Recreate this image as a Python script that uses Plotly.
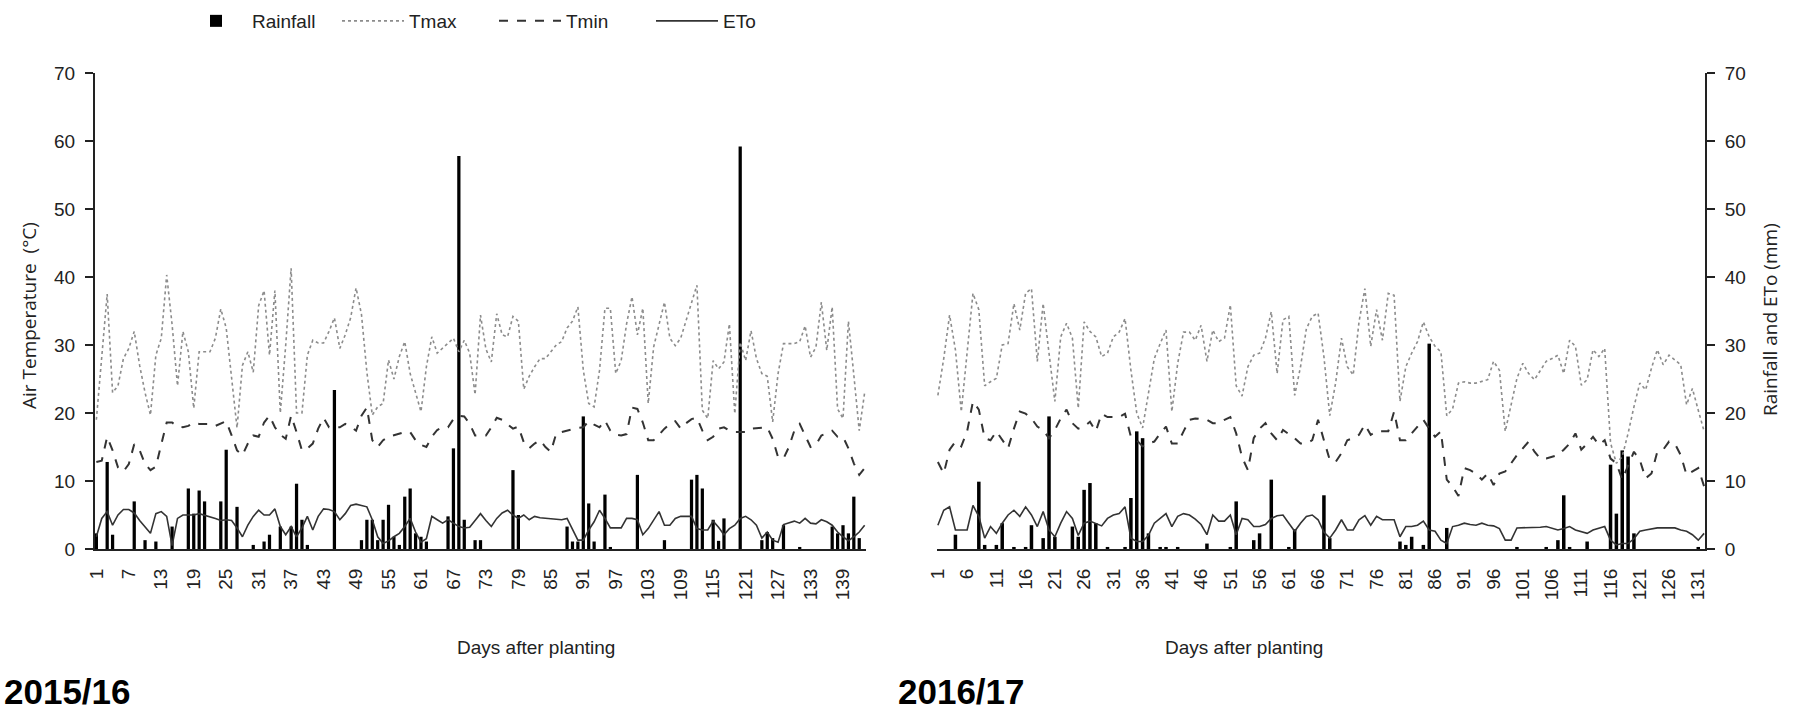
import plotly.graph_objects as go

# ---------------- data ----------------
tmax_1516 = [19, 28, 37.5, 23, 24, 28, 29.5, 32, 27, 23,
             19.7, 28.5, 31, 40.3, 33, 24, 32, 29, 20.7, 29,
             29, 29, 31, 35.3, 32.5, 25, 17.8, 27, 29, 26,
             35.8, 38, 28.5, 38, 20, 30, 41.3, 20, 20, 28.5,
             30.7, 30.3, 30.3, 32, 34, 29.5, 31.5, 34, 38.4, 34.5,
             26, 19.7, 20.9, 21.4, 27.8, 25, 28.3, 30.5, 25.8, 23,
             20.2, 26.8, 31.2, 28.8, 29.5, 30.2, 31, 29, 30.7, 28.8,
             22.7, 34.4, 29.4, 27.5, 34.6, 31.5, 31.2, 34.2, 33.5, 23.5,
             25.4, 26.8, 28, 28, 29, 30, 30.5, 32.5, 33.5, 35.6,
             26.3, 21.4, 20.9, 26.3, 35.4, 35.4, 25.8, 27.7, 33.1, 37.1,
             31.5, 35.4, 21.4, 29.7, 33, 36.3, 31, 29.9, 31, 33.6,
             36, 38.8, 20.4, 19.2, 27.7, 26.5, 27.5, 33.1, 19.9, 30.4,
             27.7, 32.1, 28, 25.8, 25.4, 18.7, 25.8, 30.2, 30.2, 30.2,
             30.5, 32.8, 28.2, 29.7, 36.3, 29.2, 35.6, 20.6, 19.2, 33.5,
             25.6, 17.4, 23]
tmin_1516 = [12.8, 13, 16.5, 14.5, 12, 11.4, 12.5, 15.4, 14.5, 12.5,
             11.6, 12.1, 15.4, 18.6, 18.6, 18, 17.9, 18.1, 18.6, 18.4,
             18.4, 18.4, 18.1, 18.4, 18.8, 16.7, 14.5, 13.8, 15.5, 16.7,
             16.5, 18.6, 19.6, 17.9, 16.8, 16.2, 19.6, 17.2, 14.5, 14.8,
             15.5, 17.7, 19.3, 17.9, 17.9, 17.9, 18.4, 18, 17.4, 19.6,
             20.8, 16, 15, 16, 16.5, 16.7, 17, 17.2, 17.2, 16,
             15.3, 15, 16.5, 17.5, 17.9, 17.9, 19.1, 19.6, 19.5, 18.4,
             16.7, 16.7, 16.7, 17.9, 19.3, 19, 18.4, 17.7, 18, 15.7,
             14.8, 15.5, 16, 15, 14.3, 17, 17.2, 17.4, 17.7, 17.8,
             17.9, 18.8, 18.3, 17.9, 18.9, 17.4, 16.8, 16.7, 16.9, 20.8,
             20.6, 18.6, 16, 16, 16.8, 17.7, 18.4, 18.8, 17.7, 18.5,
             19.1, 19.3, 17.4, 16, 16.5, 17.7, 17.9, 17.4, 17.2, 17.2,
             17.2, 17.7, 17.8, 17.9, 17.9, 16.2, 13.5, 13.3, 15, 17.4,
             18.4, 16.7, 15, 15.3, 16.7, 17, 17.4, 16.5, 16.5, 14.8,
             12.6, 10.9, 11.9]
eto_1516 = [1.8, 4.5, 5.5, 3.5, 5.0, 5.8, 5.8, 5.3, 4.2, 3.3,
            2.3, 5.2, 5.5, 4.8, 0.5, 4.5, 5.0, 5.0, 5.0, 5.2,
            5.0, 4.8, 4.5, 4.2, 4.3, 4.2, 3.1, 1.8, 3.5, 4.8,
            5.7, 5.0, 5.0, 5.9, 3.3, 2.1, 3.3, 1.8, 3.1, 4.8,
            2.8, 4.8, 5.9, 5.8, 5.5, 4.3, 5.2, 6.4, 6.6, 6.4,
            6.2, 4.3, 1.8, 0.8, 1.2, 1.8, 2.3, 3.3, 4.5, 2.5,
            1.0, 1.5, 4.8, 4.3, 3.8, 4.3, 3.8, 3.3, 3.1, 3.2,
            4.2, 5.2, 4.2, 3.3, 4.5, 5.3, 5.7, 5.0, 4.5, 5.0,
            4.3, 4.8, 4.6, 4.5, 4.5, 4.3, 4.3, 4.5, 3.0, 1.3,
            1.3, 2.8, 4.0, 5.7, 4.5, 3.1, 3.1, 3.1, 4.5, 4.5,
            4.3, 2.1, 3.0, 4.2, 5.5, 3.5, 3.5, 4.5, 4.8, 4.8,
            4.8, 3.0, 2.8, 2.8, 4.1, 3.2, 2.1, 3.0, 3.5, 4.5,
            4.8, 4.3, 3.5, 1.6, 2.5, 1.3, 1.0, 3.6, 3.8, 4.1,
            3.8, 4.5, 3.8, 3.7, 4.3, 4.0, 3.5, 2.5, 1.8, 1.2,
            1.8, 2.5, 3.5]
rain_days_1516 = [1, 3, 4, 8, 10, 12, 15, 18, 19, 20, 21, 24, 25, 27, 30, 32, 33, 35,
                  37, 38, 39, 40, 45, 50, 51, 52, 53, 54, 55, 56, 57, 58, 59, 60, 61,
                  62, 66, 67, 68, 69, 71, 72, 78, 79, 88, 89, 90, 91, 92, 93, 95, 96,
                  101, 106, 111, 112, 113, 115, 116, 117, 120, 124, 125, 126, 128,
                  131, 137, 138, 139, 140, 141, 142]
rain_mm_1516 = [2.3, 12.8, 2.1, 7.0, 1.3, 1.1, 3.3, 8.9, 5.2, 8.6, 7.0, 7.0, 14.6, 6.2,
                0.6, 1.1, 2.1, 3.3, 3.3, 9.6, 4.3, 0.6, 23.4, 1.3, 4.3, 4.3, 1.3, 4.3,
                6.5, 1.8, 0.6, 7.7, 8.9, 2.3, 1.8, 1.1, 4.8, 14.8, 57.8, 4.3, 1.3, 1.3,
                11.6, 5.0, 3.3, 1.1, 1.1, 19.5, 6.7, 1.1, 8.0, 0.3, 10.9, 1.3, 10.2,
                10.9, 8.9, 4.3, 1.2, 4.5, 59.2, 1.3, 2.5, 1.6, 3.5, 0.3, 3.3, 2.3,
                3.5, 2.3, 7.7, 1.6]

tmax_1617 = [22.6, 28, 34.4, 29.3, 20.2, 29.3, 37.6, 35.2, 24, 24.6,
             25.1, 30, 30.2, 36.1, 32.2, 37.6, 38.3, 27.6, 36.1, 28.8,
             21.7, 31.2, 33.2, 31, 20.7, 33.4, 32, 31.2, 28.3, 28.8,
             31.2, 31.9, 33.9, 26.3, 20, 17.8, 23, 28, 30.2, 32.2,
             20.2, 27.3, 31.9, 31.9, 30.7, 32.9, 27.6, 32.2, 30.5, 31,
             35.9, 24, 22.5, 26.8, 28.5, 28.8, 31, 34.9, 25.8, 33.7,
             34.2, 22.6, 26.8, 32.4, 34.2, 34.7, 28.3, 19.6, 24.4, 31,
             26.8, 25.6, 33.4, 38.3, 29.8, 35.2, 30.7, 37.6, 37.3, 21.7,
             26.8, 28.8, 30.5, 33.4, 31.2, 29.8, 29, 19.6, 20.6, 24.4,
             24.6, 24.4, 24.4, 24.6, 24.9, 27.6, 26.3, 17.3, 21.2, 25.1,
             27.3, 25.8, 24.9, 26.3, 27.6, 28, 28.5, 25.8, 30.7, 29.8,
             24.1, 24.9, 29.3, 28.3, 29.5, 15.6, 12.6, 13.6, 17, 20.9,
             24.4, 23.4, 26.6, 29.3, 27.1, 28.5, 27.8, 27.1, 21.2, 23.6,
             20.4, 17.3]
tmin_1617 = [12.8, 11.1, 14.6, 15.8, 15.1, 17.3, 21.7, 20.5, 16.3, 16,
             17.3, 16, 14.8, 17.7, 20.2, 19.9, 19.2, 18, 17.5, 16.3,
             17.5, 19.2, 20.5, 18.5, 17.7, 18, 18.7, 17.3, 19.9, 19.4,
             19.4, 19.4, 19.9, 16.5, 16, 15.1, 15.5, 15.8, 17, 18,
             15.5, 15.5, 17.3, 19, 19.2, 19.1, 19, 18.5, 18.5, 19,
             19.4, 17, 13.5, 11.6, 16.3, 17.7, 18.5, 17, 16, 17.5,
             16.9, 16.3, 15.5, 15.5, 16, 19, 16, 13.1, 12.8, 14.1,
             16, 16.3, 16.8, 18.3, 16.8, 17.3, 17.3, 17.3, 20.2, 16,
             16, 17, 18, 19, 17.7, 16.5, 17.3, 10.2, 9.2, 7.8,
             11.9, 11.6, 11.1, 10.2, 11.1, 9.4, 11.1, 11.4, 12.6, 13.8,
             14.8, 15.8, 14.3, 13.3, 13.3, 13.6, 13.8, 14.6, 15.5, 17,
             14.6, 15.5, 16.5, 15.3, 16, 13.3, 12.6, 10.2, 12.2, 14.3,
             13.1, 10.4, 11.1, 14.3, 14.6, 15.8, 15.5, 13.8, 10.9, 11.4,
             11.9, 9.2]
eto_1617 = [3.5, 5.7, 6.2, 2.8, 2.8, 2.8, 6.4, 4.8, 1.6, 3.3,
            2.3, 3.8, 5.0, 5.7, 4.8, 6.2, 5.0, 3.3, 5.5, 2.8,
            1.8, 3.8, 5.5, 4.5, 2.0, 3.8, 4.1, 3.8, 3.4, 4.5,
            5.0, 5.2, 6.2, 1.6, 1.1, 1.1, 2.0, 3.8, 4.5, 5.2,
            3.3, 4.8, 5.2, 5.0, 4.4, 3.6, 2.1, 5.0, 4.1, 4.1,
            5.0, 2.1, 4.5, 4.3, 3.3, 3.3, 3.6, 4.5, 4.9, 5.0,
            3.8, 2.6, 3.8, 4.8, 5.0, 4.3, 2.5, 1.6, 2.8, 4.3,
            2.8, 2.8, 4.3, 4.9, 3.5, 4.8, 4.3, 4.3, 4.3, 1.8,
            3.3, 3.3, 3.5, 4.1, 2.8, 2.6, 1.3, 0.8, 3.3, 3.5,
            3.8, 3.6, 3.5, 3.8, 3.5, 3.4, 3.0, 1.3, 1.3, 3.1,
            3.1, 3.1, 3.1, 3.2, 3.3, 3.1, 2.8, 3.0, 3.3, 2.8,
            2.5, 2.3, 2.8, 3.1, 3.3, 1.3, 0.6, 0.8, 0.8, 1.5,
            2.6, 2.8, 3.0, 3.1, 3.1, 3.1, 3.1, 2.8, 2.6, 2.1,
            1.3, 2.3]
rain_days_1617 = [4, 8, 9, 11, 12, 14, 16, 17, 19, 20, 21, 24, 25, 26, 27, 28, 30, 33,
                  34, 35, 36, 37, 39, 40, 42, 47, 51, 52, 55, 56, 58, 61, 62, 67, 68,
                  80, 81, 82, 84, 85, 88, 100, 105, 107, 108, 109, 112, 116, 117,
                  118, 119, 120, 131]
rain_mm_1617 = [2.1, 9.9, 0.6, 0.6, 3.8, 0.3, 0.3, 3.5, 1.6, 19.5, 1.8, 3.3, 1.8, 8.7,
                9.7, 3.8, 0.3, 0.3, 7.5, 17.3, 16.3, 2.3, 0.3, 0.3, 0.3, 0.8, 0.3, 7.0,
                1.3, 2.3, 10.2, 0.3, 2.9, 7.9, 1.6, 1.1, 0.6, 1.8, 0.6, 30.2, 3.1, 0.3,
                0.3, 1.3, 7.9, 0.3, 1.1, 12.4, 5.2, 14.5, 13.6, 2.3, 0.3]

ticks_1516 = list(range(1, 140, 6))
ticks_1617 = list(range(1, 132, 5))
season_labels = ["2015/16", "2016/17"]
y_ticks = [0, 10, 20, 30, 40, 50, 60, 70]

# ---------------- figure ----------------
W, H = 1798, 711
FONT = "Liberation Sans"
INK = "#222222"
fig = go.Figure()

days_1516 = list(range(1, len(tmax_1516) + 1))
days_1617 = list(range(1, len(tmax_1617) + 1))


def add_season(days, rdays, rmm, tmax, tmin, eto, xa, ya, show):
    fig.add_trace(go.Bar(x=rdays, y=rmm, name="Rainfall",
                         marker=dict(color="black", line=dict(width=0)),
                         width=0.6, xaxis=xa, yaxis=ya, showlegend=show, legendrank=1))
    fig.add_trace(go.Scatter(x=days, y=tmax, name="Tmax", mode="lines",
                             line=dict(color="#8c8c8c", width=1.6, dash="dot"),
                             xaxis=xa, yaxis=ya, showlegend=show, legendrank=2))
    fig.add_trace(go.Scatter(x=days, y=tmin, name="Tmin", mode="lines",
                             line=dict(color="#333333", width=2, dash="dash"),
                             xaxis=xa, yaxis=ya, showlegend=show, legendrank=3))
    fig.add_trace(go.Scatter(x=days, y=eto, name="ETo", mode="lines",
                             line=dict(color="#333333", width=1.6),
                             xaxis=xa, yaxis=ya, showlegend=show, legendrank=4))


add_season(days_1516, rain_days_1516, rain_mm_1516, tmax_1516, tmin_1516, eto_1516, "x", "y", True)
add_season(days_1617, rain_days_1617, rain_mm_1617, tmax_1617, tmin_1617, eto_1617, "x2", "y2", False)

ydom = [1 - 549 / H, 1 - 73 / H]
xfont = dict(family=FONT, size=19, color=INK)
yfont = dict(family=FONT, size=19, color=INK)

common_x = dict(tickmode="array", tickangle=-90, tickfont=xfont, ticks="", showgrid=False,
                zeroline=False, showline=True, linecolor=INK, linewidth=2, ticklabelstandoff=10,
                automargin=False)
common_y = dict(domain=ydom, range=[0, 70], tickvals=y_ticks, tickfont=yfont,
                ticks="outside", ticklen=8, tickwidth=2, tickcolor=INK,
                showline=True, linecolor=INK, linewidth=2, showgrid=False,
                zeroline=False, ticklabelstandoff=6, automargin=False)

fig.update_layout(
    width=W, height=H,
    margin=dict(l=0, r=0, t=0, b=0, autoexpand=False),
    paper_bgcolor="white", plot_bgcolor="white",
    font=dict(family=FONT, color=INK),
    xaxis=dict(domain=[95 / W, 866 / W], range=[0.75, len(tmax_1516) + 0.25],
               tickvals=ticks_1516, ticktext=[str(t) for t in ticks_1516], anchor="y", **common_x),
    yaxis=dict(anchor="x", side="left", **common_y),
    xaxis2=dict(domain=[937 / W, 1705 / W], range=[0.85, len(tmax_1617) + 0.15],
                tickvals=ticks_1617, ticktext=[str(t) for t in ticks_1617], anchor="y2", **common_x),
    yaxis2=dict(anchor="x2", side="right", **common_y),
    legend=dict(orientation="h", x=180 / W, xanchor="left", y=1 - 21 / H, yanchor="middle",
                font=dict(family=FONT, size=19, color=INK), itemwidth=62,
                entrywidth=80, entrywidthmode="pixels",
                bgcolor="rgba(0,0,0,0)", traceorder="normal"),
)

title_font = dict(family=FONT, size=19, color=INK)
ann = [
    dict(text="Days after planting", x=455 / W, y=1 - 660 / H, showarrow=False, font=title_font),
    dict(text="Days after planting", x=1325 / W, y=1 - 660 / H, showarrow=False, font=title_font),
    dict(text="<b>%s</b>" % season_labels[0], x=2 / W, y=1 - 691 / H, xanchor="left", yanchor="middle",
         showarrow=False, font=dict(family=FONT, size=35, color="black")),
    dict(text="<b>%s</b>" % season_labels[1], x=896 / W, y=1 - 691 / H, xanchor="left", yanchor="middle",
         showarrow=False, font=dict(family=FONT, size=35, color="black")),
    dict(text="Air Temperature  (°C)", x=14 / W, y=1 - 316 / H, textangle=-90, showarrow=False,
         font=dict(family="Open Sans", size=19, color=INK)),
    dict(text="Rainfall and ETo (mm)", x=1785 / W, y=1 - 320 / H, textangle=-90, showarrow=False,
         font=dict(family="Open Sans", size=19, color=INK)),
]
for a in ann:
    a.update(xref="paper", yref="paper")
fig.update_layout(annotations=ann)

# remove the browser's default 8px page margin so the figure fills the window exactly
fig.write_html("out.html", config={"displayModeBar": False},
               post_script="document.body.style.margin='0px';document.body.style.overflow='hidden';")
